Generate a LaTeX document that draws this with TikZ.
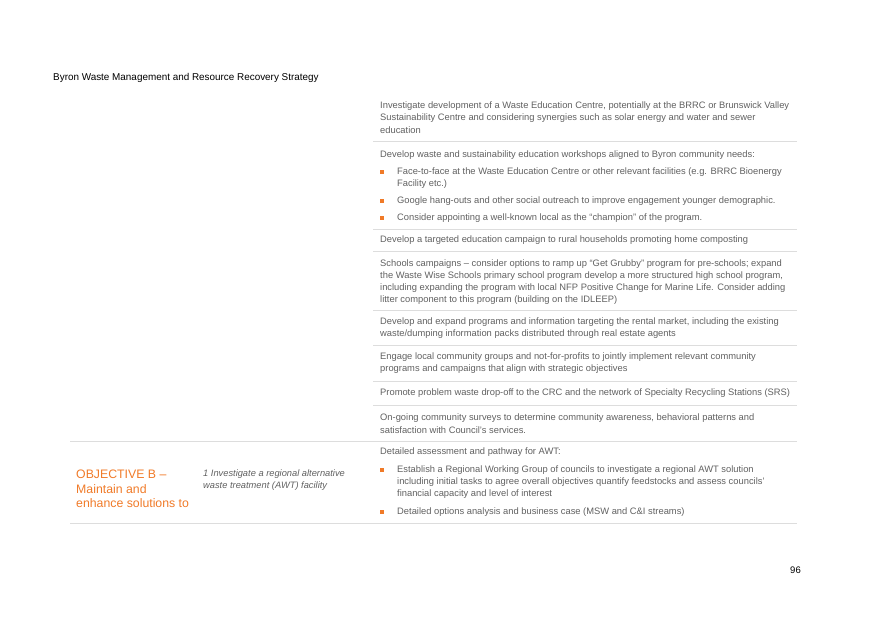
\documentclass[tikz,border=0pt]{standalone}
\usepackage{fontspec}
\setmainfont{Liberation Sans}
\definecolor{txt}{HTML}{606060}
\definecolor{org}{HTML}{F07A28}
\definecolor{rule}{HTML}{DDDDDD}
\tikzset{
 body/.style={font=\fontsize{9.35}{12}\selectfont, text=txt, align=left, anchor=west, inner sep=0pt},
 bul/.style={fill=org, minimum size=3.2pt, inner sep=0pt},
 sep/.style={draw=rule, line width=0.8pt}
}
\begin{document}
\begin{tikzpicture}[x=1pt,y=-1pt]
\useasboundingbox (0,0) rectangle (875,619);
\node[body, text=black, font=\fontsize{9.9}{10}\selectfont] (hdr) at (53,78) {Byron Waste Management and Resource Recovery Strategy};
\node[body] (p1) at (380,106) {Investigate development of a Waste Education Centre, potentially at the BRRC or Brunswick Valley};
\node[body] (p1b) at (380,118) {Sustainability Centre and considering synergies such as solar energy and water and sewer};
\node[body] (p1c) at (380,130) {education};
\coordinate (l1a) at (373,141); \coordinate (l1b) at (797,141); \draw[sep] (l1a) -- (l1b);
\node[body] (p2) at (380,155) {Develop waste and sustainability education workshops aligned to Byron community needs:};
\node[bul] (b1) at (382,172) {}; \node[body] (b1t) at (397,172) {Face-to-face at the Waste Education Centre or other relevant facilities (e.g. BRRC  Bioenergy};
\node[body] (b1u) at (397,184) {Facility etc.)};
\node[bul] (b2) at (382,201) {}; \node[body] (b2t) at (397,201) {Google hang-outs and other social outreach to improve engagement younger demographic.};
\node[bul] (b3) at (382,218) {}; \node[body] (b3t) at (397,218) {Consider appointing a well-known local as the ``champion'' of the program.};
\coordinate (l2a) at (373,229); \coordinate (l2b) at (797,229); \draw[sep] (l2a) -- (l2b);
\node[body] (p3) at (380,240) {Develop a targeted education campaign to rural households promoting home composting};
\coordinate (l3a) at (373,251); \coordinate (l3b) at (797,251); \draw[sep] (l3a) -- (l3b);
\node[body] (p4) at (380,264) {Schools campaigns -- consider options to ramp up ``Get Grubby'' program for pre-schools; expand};
\node[body] (p4b) at (380,276) {the Waste Wise Schools primary school program  develop a more structured high school program,};
\node[body] (p4c) at (380,288) {including expanding the program with local NFP Positive Change for Marine Life. Consider adding};
\node[body] (p4d) at (380,300) {litter component to this program (building on the IDLEEP)};
\coordinate (l4a) at (373,310); \coordinate (l4b) at (797,310); \draw[sep] (l4a) -- (l4b);
\node[body] (p5) at (380,322) {Develop and expand programs and information targeting the rental market, including the existing};
\node[body] (p5b) at (380,334) {waste/dumping information packs distributed through real estate agents};
\coordinate (l5a) at (373,345); \coordinate (l5b) at (797,345); \draw[sep] (l5a) -- (l5b);
\node[body] (p6) at (380,357) {Engage local community groups and not-for-profits to jointly implement relevant community};
\node[body] (p6b) at (380,369) {programs and campaigns that align with strategic objectives};
\coordinate (l6a) at (373,381); \coordinate (l6b) at (797,381); \draw[sep] (l6a) -- (l6b);
\node[body] (p7) at (380,393) {Promote problem waste drop-off to the CRC and the network of Specialty Recycling Stations (SRS)};
\coordinate (l7a) at (373,405); \coordinate (l7b) at (797,405); \draw[sep] (l7a) -- (l7b);
\node[body] (p8) at (380,418) {On-going community surveys to determine community awareness, behavioral patterns and};
\node[body] (p8b) at (380,430) {satisfaction with Council's services.};
\coordinate (l8a) at (70,441); \coordinate (l8b) at (797,441); \draw[sep] (l8a) -- (l8b);
\node[body, text=org, font=\fontsize{12.3}{14.5}\selectfont, anchor=north west] (obj) at (76,470) {OBJECTIVE B --\\Maintain and\\enhance solutions to};
\node[body, font=\fontsize{9.3}{12}\selectfont\itshape, anchor=north west] (act) at (203,470) {1 Investigate a regional alternative\\waste treatment (AWT) facility};
\node[body] (p9) at (380,452) {Detailed assessment and pathway for AWT:};
\node[bul] (b4) at (382,470) {}; \node[body] (b4t) at (397,470) {Establish a Regional Working Group of councils to investigate a regional AWT solution};
\node[body] (b4u) at (397,482) {including initial tasks to agree overall objectives  quantify feedstocks and assess councils'};
\node[body] (b4v) at (397,494) {financial capacity and level of interest};
\node[bul] (b5) at (382,512) {}; \node[body] (b5t) at (397,512) {Detailed options analysis and business case (MSW and C\&I streams)};
\coordinate (l9a) at (70,523); \coordinate (l9b) at (797,523); \draw[sep] (l9a) -- (l9b);
\node[body, text=black, font=\fontsize{9.5}{10}\selectfont, anchor=east] (pg) at (801,570) {96};
\end{tikzpicture}
\end{document}
